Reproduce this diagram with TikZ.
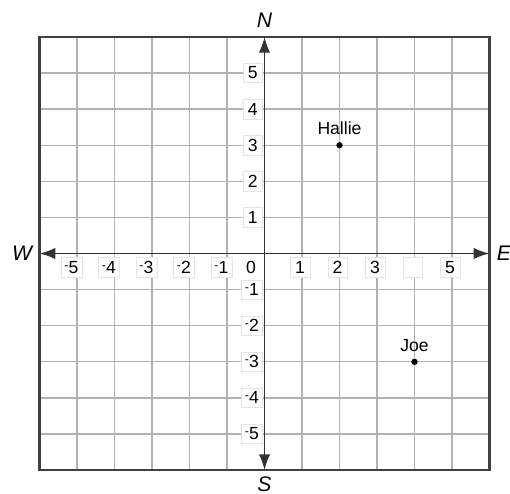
\documentclass[tikz,border=0pt]{standalone}
\usepackage{fontspec}
\setmainfont{Liberation Sans}
\usetikzlibrary{arrows.meta,positioning}

\newcommand{\mneg}{\raisebox{0.45ex}{\scriptsize -}}

\tikzset{
    gridline/.style={black!30, line width=0.7pt},
    frameline/.style={black!75, line width=1.2pt},
    axisline/.style={black!80, line width=1.1pt,
        {Latex[length=9pt,width=6.5pt]}-{Latex[length=9pt,width=6.5pt]}},
    numbox/.style={fill=white, draw=black!10, line width=0.3pt, inner sep=2pt,
        minimum height=11pt, minimum width=11pt, font=\fontsize{10}{11}\selectfont},
    compass/.style={inner sep=0pt, font=\fontsize{12}{13}\selectfont\itshape},
    dot/.style={circle, fill=black, inner sep=0pt, minimum size=3.6pt},
    ptlabel/.style={inner sep=0pt, font=\fontsize{10}{11}\selectfont}
}

\begin{document}
\begin{tikzpicture}[x=0.75cm, y=0.722cm]
    \useasboundingbox (-5.29cm,-4.79cm) rectangle (4.91cm,5.07cm);

    % Grid and frame
    \foreach \k in {-5, ..., 5} {
        \draw[gridline] (\k,-6) -- (\k,6);
        \draw[gridline] (-6,\k) -- (6,\k);
    }
    \draw[frameline] (-6,-6) rectangle (6,6);

    % Axes (arrow tips on the frame)
    \coordinate (west) at (-6,0);
    \coordinate (east) at (6,0);
    \coordinate (south) at (0,-6);
    \coordinate (north) at (0,6);
    \draw[axisline] (west) -- (east);
    \draw[axisline] (south) -- (north);

    % Compass letters
    \node[compass, above=5pt of north] (lblN) {N};
    \node[compass, below=3.5pt of south] (lblS) {S};
    \node[compass, left=4pt of west] (lblW) {W};
    \node[compass, right=4pt of east] (lblE) {E};

    % Numbers on the x-axis (4 is left blank)
    \foreach \x in {1, 2, 3, 5} {
        \node[numbox] (xpos\x) at (\x-0.05, -0.38) {\x};
    }
    \node[numbox] (xpos4) at (3.95, -0.38) {};
    \foreach \x in {1, 2, 3, 4, 5} {
        \node[numbox] (xneg\x) at (-\x-0.15, -0.38) {\mneg\x};
    }
    \node[numbox, draw=none] (zero) at (-0.36, -0.38) {0};

    % Numbers on the y-axis
    \foreach \y in {1, 2, 3, 4, 5} {
        \node[numbox, anchor=east] (ypos\y) at (-0.05, \y) {\y};
        \node[numbox, anchor=east] (yneg\y) at (-0.05, -\y) {\mneg\y};
    }

    % Points
    \node[dot] (hallie) at (2,3) {};
    \node[ptlabel, above=4pt of hallie] (hallieLbl) {Hallie};
    \node[dot] (joe) at (4,-3) {};
    \node[ptlabel, above=3.4pt of joe] (joeLbl) {Joe};

\end{tikzpicture}
\end{document}
